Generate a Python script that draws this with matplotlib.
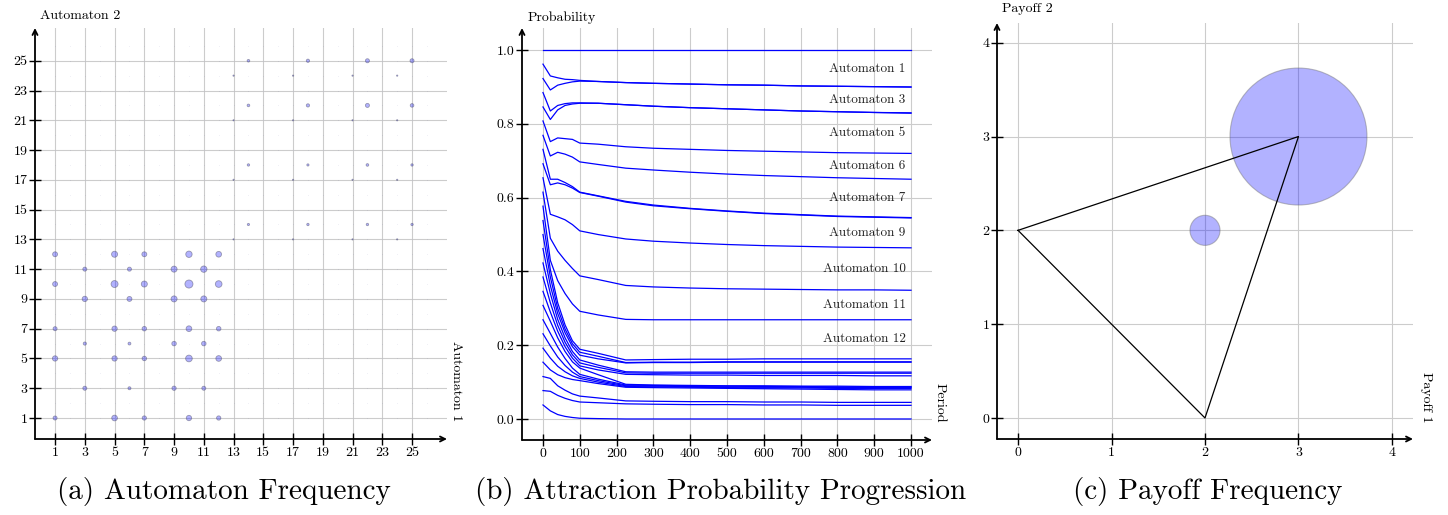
import numpy as np
import matplotlib.pyplot as plt

plt.rcParams['font.family'] = ['cmr10', 'DejaVu Serif']
plt.rcParams['mathtext.fontset'] = 'cm'
plt.rcParams['axes.unicode_minus'] = False
plt.rcParams['axes.formatter.use_mathtext'] = True

# ── (a) how often each pair of automata met (relative frequency) ──
n_automata = 26
pair_a1 = [1, 5, 7, 10, 12,   3, 6, 9, 11,   1, 5, 7, 10, 12,   3, 6, 9, 11,
           1, 5, 7, 10, 12,   3, 6, 9, 11,   1, 5, 7, 10, 12,   3, 6, 9, 11,
           1, 5, 7, 10, 12,
           14, 18, 22, 25,   14, 18, 22, 25,   14, 18, 22, 25,   14, 18, 22, 25,
           13, 17, 21, 24,   13, 17, 21, 24,   13, 17, 21, 24,   13, 17, 21, 24]
pair_a2 = [12, 12, 12, 12, 12,   11, 11, 11, 11,   10, 10, 10, 10, 10,   9, 9, 9, 9,
           7, 7, 7, 7, 7,   6, 6, 6, 6,   5, 5, 5, 5, 5,   3, 3, 3, 3,
           1, 1, 1, 1, 1,
           25, 25, 25, 25,   22, 22, 22, 22,   18, 18, 18, 18,   14, 14, 14, 14,
           24, 24, 24, 24,   21, 21, 21, 21,   17, 17, 17, 17,   13, 13, 13, 13]
pair_freq = [6, 9, 6, 10, 8,   4, 4, 9, 10,   6, 12, 9, 16, 11,   7, 6, 9, 9,
             4, 7, 5, 8, 5,   2.5, 2, 5, 5,   7, 7, 5, 11, 8,   4, 2.2, 4.5, 4,
             4, 8, 4.5, 7, 4.5,
             1.7, 2.6, 4, 4,   1.7, 2.6, 4, 3.2,   1.4, 1.2, 1.7, 1.4,   1.2, 1.4, 1.4, 1.4,
             0.4, 0.4, 0.4, 0.4,   0.4, 0.4, 0.4, 0.4,   0.4, 0.4, 0.4, 0.4,   0.4, 0.4, 0.4, 0.4]
trace_freq = 0.05  # every other pairing only shows as a faint speck
odd_ticks = list(range(1, 26, 2))

# ── (b) cumulative attraction probability (stacked from the top) ──
periods = [0, 20, 40, 60, 80, 100, 150, 225, 300, 400, 500, 600, 700, 800, 900, 1000]
cum_prob = [
    [1.000] * 16,
    [0.962, 0.930, 0.925, 0.921, 0.920, 0.918, 0.915, 0.912, 0.910, 0.908, 0.906, 0.905, 0.903, 0.902, 0.901, 0.900],
    [0.923, 0.892, 0.905, 0.910, 0.914, 0.916, 0.915, 0.912, 0.910, 0.908, 0.906, 0.905, 0.903, 0.902, 0.901, 0.900],
    [0.885, 0.835, 0.850, 0.855, 0.857, 0.857, 0.856, 0.852, 0.848, 0.844, 0.841, 0.838, 0.835, 0.833, 0.831, 0.830],
    [0.846, 0.812, 0.838, 0.850, 0.854, 0.856, 0.856, 0.852, 0.848, 0.844, 0.841, 0.838, 0.835, 0.833, 0.831, 0.829],
    [0.808, 0.752, 0.762, 0.760, 0.758, 0.748, 0.745, 0.738, 0.734, 0.731, 0.728, 0.726, 0.724, 0.722, 0.721, 0.720],
    [0.769, 0.713, 0.723, 0.718, 0.710, 0.697, 0.690, 0.680, 0.675, 0.669, 0.664, 0.660, 0.657, 0.654, 0.652, 0.650],
    [0.731, 0.650, 0.650, 0.641, 0.630, 0.615, 0.605, 0.590, 0.580, 0.571, 0.564, 0.558, 0.554, 0.550, 0.548, 0.546],
    [0.692, 0.635, 0.640, 0.635, 0.626, 0.614, 0.604, 0.588, 0.578, 0.570, 0.563, 0.557, 0.553, 0.549, 0.547, 0.545],
    [0.654, 0.555, 0.548, 0.540, 0.527, 0.510, 0.500, 0.488, 0.482, 0.477, 0.473, 0.470, 0.468, 0.466, 0.465, 0.464],
    [0.615, 0.490, 0.455, 0.430, 0.408, 0.388, 0.378, 0.362, 0.358, 0.355, 0.353, 0.352, 0.351, 0.350, 0.350, 0.349],
    [0.577, 0.430, 0.375, 0.340, 0.312, 0.292, 0.282, 0.270, 0.269, 0.269, 0.269, 0.269, 0.269, 0.269, 0.269, 0.269],
    [0.538, 0.405, 0.315, 0.255, 0.212, 0.189, 0.178, 0.160, 0.161, 0.162, 0.162, 0.163, 0.163, 0.163, 0.163, 0.163],
    [0.500, 0.385, 0.300, 0.244, 0.204, 0.181, 0.170, 0.153, 0.154, 0.154, 0.155, 0.155, 0.155, 0.155, 0.155, 0.155],
    [0.462, 0.362, 0.286, 0.234, 0.196, 0.173, 0.163, 0.152, 0.153, 0.153, 0.154, 0.154, 0.154, 0.154, 0.154, 0.154],
    [0.423, 0.340, 0.270, 0.220, 0.183, 0.160, 0.146, 0.128, 0.127, 0.127, 0.127, 0.127, 0.127, 0.127, 0.127, 0.127],
    [0.385, 0.315, 0.254, 0.208, 0.174, 0.152, 0.140, 0.125, 0.124, 0.124, 0.124, 0.124, 0.124, 0.124, 0.124, 0.124],
    [0.346, 0.290, 0.238, 0.196, 0.165, 0.144, 0.133, 0.121, 0.120, 0.119, 0.119, 0.118, 0.118, 0.118, 0.117, 0.117],
    [0.308, 0.265, 0.220, 0.183, 0.155, 0.138, 0.120, 0.094, 0.092, 0.091, 0.090, 0.090, 0.089, 0.089, 0.088, 0.088],
    [0.269, 0.232, 0.195, 0.164, 0.138, 0.121, 0.108, 0.092, 0.091, 0.090, 0.089, 0.088, 0.088, 0.087, 0.087, 0.087],
    [0.231, 0.198, 0.168, 0.145, 0.127, 0.115, 0.104, 0.090, 0.089, 0.088, 0.087, 0.086, 0.086, 0.085, 0.085, 0.085],
    [0.192, 0.165, 0.143, 0.128, 0.117, 0.110, 0.100, 0.088, 0.087, 0.086, 0.085, 0.084, 0.084, 0.083, 0.083, 0.083],
    [0.154, 0.133, 0.120, 0.112, 0.107, 0.104, 0.096, 0.086, 0.085, 0.084, 0.083, 0.082, 0.081, 0.080, 0.079, 0.079],
    [0.115, 0.110, 0.090, 0.078, 0.068, 0.062, 0.057, 0.049, 0.048, 0.047, 0.047, 0.046, 0.046, 0.045, 0.045, 0.045],
    [0.077, 0.075, 0.064, 0.056, 0.050, 0.046, 0.044, 0.041, 0.040, 0.039, 0.039, 0.038, 0.038, 0.037, 0.037, 0.037],
    [0.038, 0.022, 0.012, 0.007, 0.004, 0.002, 0.001, 0.000, 0.000, 0.000, 0.000, 0.000, 0.000, 0.000, 0.000, 0.000],
]
label_min_share = 0.05
period_ticks = list(range(0, 1001, 100))
prob_ticks = [0.0, 0.2, 0.4, 0.6, 0.8, 1.0]

# ── (c) payoff frequency and feasible payoff triangle ──
payoff_1 = [3, 2]
payoff_2 = [3, 2]
payoff_freq = [0.954, 0.046]
feasible_1 = [0, 3, 2, 0]
feasible_2 = [2, 3, 0, 2]
payoff_ticks = [0, 1, 2, 3, 4]

GRID = '0.80'
FILL = (0, 0, 1, 0.3)
EDGE = (0.35, 0.35, 0.45, 0.55)
TICK_FS = 10


def arrow_axes(ax, xt, yt, xfmt='{}', yfmt='{}'):
    for sp in ax.spines.values():
        sp.set_visible(False)
    kw = dict(arrowstyle='->', lw=1.3, color='black', shrinkA=0, shrinkB=0,
              mutation_scale=9)
    ax.annotate('', xy=(1, 0), xytext=(0, 0), xycoords='axes fraction',
                arrowprops=kw, annotation_clip=False)
    ax.annotate('', xy=(0, 1), xytext=(0, 0), xycoords='axes fraction',
                arrowprops=kw, annotation_clip=False)
    ax.set_xticks(xt)
    ax.set_xticklabels([xfmt.format(v) for v in xt])
    ax.set_yticks(yt)
    ax.set_yticklabels([yfmt.format(v) for v in yt])
    ax.tick_params(direction='inout', length=9, width=1, pad=1,
                   labelsize=TICK_FS, colors='black')
    ax.grid(True, color=GRID, lw=0.8, zorder=0)
    ax.set_axisbelow(True)


fig = plt.figure(figsize=(14.48, 5.15), dpi=100)
W, H = 1448, 515


def add_axes(x0, x1, ytop, ybot):
    return fig.add_axes([x0 / W, 1 - ybot / H, (x1 - x0) / W, (ybot - ytop) / H])


# ── Panel (a) ──
ax = add_axes(35, 447, 28, 439)
listed = set(zip(pair_a1, pair_a2))
bg = [(i, j) for i in range(1, n_automata + 1) for j in range(1, n_automata + 1)
      if (i, j) not in listed]
ax.scatter([p[0] for p in bg], [p[1] for p in bg], s=trace_freq * 2.1,
           facecolor=(0, 0, 1, 0.15), edgecolor=(0.5, 0.5, 0.5, 0.12), lw=0.3,
           zorder=2)
ax.scatter(pair_a1, pair_a2, s=np.array(pair_freq) * 2.1,
           facecolor=FILL, edgecolor=EDGE, lw=0.6, zorder=3)
ax.set_xlim(-0.35, 27.35)
ax.set_ylim(-0.41, 27.2)
arrow_axes(ax, odd_ticks, odd_ticks)
fig.text(40 / W, 1 - 16 / H, 'Automaton 2', fontsize=10, ha='left', va='center')
fig.text(456 / W, 1 - 381 / H, 'Automaton 1', fontsize=10, rotation=-90,
         ha='center', va='center')

# ── Panel (b) ──
ax = add_axes(522, 932, 28, 440)
for line in cum_prob:
    ax.plot(periods, line, color='blue', lw=0.9, zorder=3)
for k in range(1, len(cum_prob)):
    share = cum_prob[k - 1][-1] - cum_prob[k][-1]
    if share > label_min_share:
        mid = (cum_prob[k - 1][-1] + cum_prob[k][-1]) / 2
        ax.text(985, mid, f'Automaton {k}', fontsize=9.5, ha='right',
                va='center', color='#222222', zorder=4)
ax.set_xlim(-57, 1057)
ax.set_ylim(-0.057, 1.06)
arrow_axes(ax, period_ticks, prob_ticks, yfmt='{:.1f}')
fig.text(528 / W, 1 - 17.5 / H, 'Probability', fontsize=10, ha='left', va='center')
fig.text(940 / W, 1 - 403 / H, 'Period', fontsize=10, rotation=-90,
         ha='center', va='center')

# ── Panel (c) ──
ax = add_axes(997, 1413, 23, 439)
ax.scatter(payoff_1, payoff_2, s=np.array(payoff_freq) * 10200,
           facecolor=FILL, edgecolor=(0.45, 0.45, 0.45, 0.45), lw=0.8, zorder=3)
ax.plot(feasible_1, feasible_2, color='black', lw=0.9, zorder=4)
ax.set_xlim(-0.225, 4.225)
ax.set_ylim(-0.224, 4.21)
arrow_axes(ax, payoff_ticks, payoff_ticks)
fig.text(1002 / W, 1 - 9 / H, 'Payoff 2', fontsize=10, ha='left', va='center')
fig.text(1426 / W, 1 - 397 / H, 'Payoff 1', fontsize=10, rotation=-90,
         ha='center', va='center')

# ── Captions ──
for cx, cap in [(224, '(a) Automaton Frequency'),
                (721, '(b) Attraction Probability Progression'),
                (1208, '(c) Payoff Frequency')]:
    fig.text(cx / W, 1 - 492 / H, cap, fontsize=21, ha='center', va='center')

fig.savefig('out.png', dpi=100)
